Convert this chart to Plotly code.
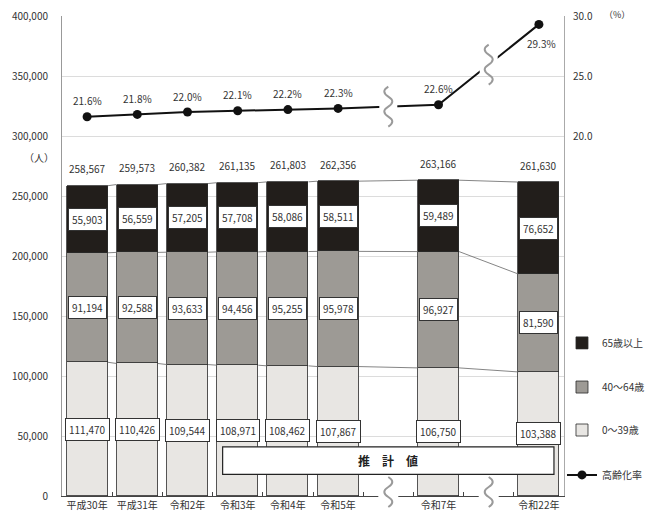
import plotly.graph_objects as go

# ---- data ----
categories = ["平成30年", "平成31年", "令和2年", "令和3年", "令和4年", "令和5年", "令和7年", "令和22年"]
age_0_39 = [111470, 110426, 109544, 108971, 108462, 107867, 106750, 103388]
age_40_64 = [91194, 92588, 93633, 94456, 95255, 95978, 96927, 81590]
age_65_over = [55903, 56559, 57205, 57708, 58086, 58511, 59489, 76652]
totals = [258567, 259573, 260382, 261135, 261803, 262356, 263166, 261630]
aging_rate = [21.6, 21.8, 22.0, 22.1, 22.2, 22.3, 22.6, 29.3]
left_ticks = [0, 50000, 100000, 150000, 200000, 250000, 300000, 350000, 400000]
right_ticks = [20.0, 25.0, 30.0]

# ---- layout helpers (positions on the x axis; gaps mark omitted years) ----
slots = [0, 1, 2, 3, 4, 5, 7, 9]
gap_slots = [6, 8]
BW = 0.82
FONT = "Noto Sans CJK JP"
TXT = "#333333"

fig = go.Figure()

# connector lines between stacks
lvl0 = age_0_39
lvl1 = [a + b for a, b in zip(age_0_39, age_40_64)]
lvl2 = [a + b + c for a, b, c in zip(age_0_39, age_40_64, age_65_over)]
cx, cy = [], []
for lv in (lvl0, lvl1, lvl2):
    for i in range(len(slots) - 1):
        cx += [slots[i] + BW / 2, slots[i + 1] - BW / 2, None]
        cy += [lv[i], lv[i + 1], None]
fig.add_trace(go.Scatter(x=cx, y=cy, mode="lines", line=dict(color="#666666", width=0.8),
                         showlegend=False, hoverinfo="skip"))

bar_line = dict(color="#2a2a2a", width=0.8)
fig.add_trace(go.Bar(x=slots, y=age_0_39, name="0～39歳", width=BW,
                     marker=dict(color="#e8e6e3", line=bar_line), legend="legend3"))
fig.add_trace(go.Bar(x=slots, y=age_40_64, name="40～64歳", width=BW,
                     marker=dict(color="#9d9a95", line=bar_line), legend="legend2"))
fig.add_trace(go.Bar(x=slots, y=age_65_over, name="65歳以上", width=BW,
                     marker=dict(color="#221e1b", line=bar_line), legend="legend"))
fig.add_trace(go.Scatter(x=slots, y=aging_rate, name="高齢化率", yaxis="y2",
                         mode="lines+markers", line=dict(color="#111111", width=2),
                         marker=dict(color="#111111", size=9), legend="legend4"))

ann = []
box = dict(bgcolor="white", bordercolor="#333333", borderwidth=1, borderpad=3,
           font=dict(family=FONT, size=10, color=TXT), showarrow=False)
for i, s in enumerate(slots):
    b0 = age_0_39[i]
    b1 = b0 + age_40_64[i]
    b2 = b1 + age_65_over[i]
    ann.append(dict(x=s, y=b0 / 2, text=f"{age_0_39[i]:,}", **box))
    ann.append(dict(x=s, y=(b0 + b1) / 2, text=f"{age_40_64[i]:,}", **box))
    ann.append(dict(x=s, y=(b1 + b2) / 2, text=f"{age_65_over[i]:,}", **box))
    ann.append(dict(x=s, y=totals[i], text=f"{totals[i]:,}", yshift=17, showarrow=False,
                    font=dict(family=FONT, size=10, color=TXT)))
    last = i == len(slots) - 1
    ann.append(dict(x=s, y=aging_rate[i], yref="y2", text=f"{aging_rate[i]:.1f}%",
                    yshift=-19 if last else 16, xshift=3 if last else 0, showarrow=False,
                    font=dict(family=FONT, size=10, color=TXT)))

ann.append(dict(xref="paper", yref="paper", x=-0.012, y=0.706, xanchor="right", yanchor="middle",
                text="（人）", showarrow=False, font=dict(family=FONT, size=10, color=TXT)))
ann.append(dict(xref="paper", yref="paper", x=1.076, y=1.004, xanchor="left", yanchor="middle",
                text="（%）", showarrow=False, font=dict(family=FONT, size=9, color=TXT)))
ann.append(dict(x=6, y=29500, text="<b>推　計　値</b>", showarrow=False,
                font=dict(family=FONT, size=12, color="#222222")))

shapes = [dict(type="rect", xref="x", yref="y", x0=2.7, x1=9.3, y0=18000, y1=41000,
               fillcolor="white", line=dict(color="#222222", width=1.2), layer="above")]


def wave(cy, h, amp, n):
    y = cy - h / 2
    step = h / n
    p = f"M0,{y:.1f}"
    for k in range(n):
        sgn = 1 if k % 2 == 0 else -1
        p += f" Q{2 * amp * sgn:.1f},{y + step / 2:.1f} 0,{y + step:.1f}"
        y += step
    return p


# break marks on the rate line and on the x axis
for g in gap_slots:
    i = slots.index(g - 1)
    mid = (aging_rate[i] + aging_rate[i + 1]) / 2
    common = dict(xref="x", yref="y2", xsizemode="pixel", ysizemode="pixel",
                  xanchor=g, yanchor=mid, layer="above")
    shapes.append(dict(type="path", path="M-9,-11 H9 V11 H-9 Z", fillcolor="white",
                       line=dict(width=0), **common))
    shapes.append(dict(type="path", path=wave(0, 40, 4, 4), line=dict(color="#9a9a9a", width=2),
                       **common))
    common_b = dict(xref="x", yref="paper", xsizemode="pixel", ysizemode="pixel",
                    xanchor=g, yanchor=0, layer="above")
    shapes.append(dict(type="path", path="M-10,-3 H10 V3 H-10 Z", fillcolor="white",
                       line=dict(width=0), **common_b))
    shapes.append(dict(type="path", path=wave(4, 30, 4, 3), line=dict(color="#9a9a9a", width=2),
                       **common_b))

legend_common = dict(font=dict(family=FONT, size=10, color=TXT), bgcolor="rgba(0,0,0,0)",
                     x=0.996, xanchor="left", yanchor="middle", itemwidth=30)
fig.update_layout(
    width=655, height=515,
    margin=dict(l=62, r=91, t=16, b=19, autoexpand=False),
    paper_bgcolor="white", plot_bgcolor="white",
    barmode="stack", bargap=0,
    font=dict(family=FONT, size=10, color=TXT),
    xaxis=dict(range=[-0.5, 9.5], tickmode="array", tickvals=slots, ticktext=categories,
               automargin=False,
               showgrid=False, zeroline=False, showline=True, linecolor="#444444", linewidth=1,
               ticks="", tickfont=dict(family=FONT, size=10, color=TXT),
               minor=dict(tickmode="array", tickvals=[k + 0.5 for k in range(9)],
                          ticks="inside", ticklen=4, tickcolor="#444444", showgrid=False)),
    yaxis=dict(range=[0, 400000], tickmode="array", tickvals=left_ticks, tickformat=",d",
               automargin=False,
               showgrid=True, gridcolor="#dcdcdc", gridwidth=1, zeroline=False,
               showline=True, linecolor="#999999", linewidth=1, ticks="",
               ticklabelstandoff=11, tickfont=dict(family=FONT, size=10, color=TXT)),
    yaxis2=dict(range=[-10, 30], overlaying="y", side="right", tickmode="array",
                automargin=False,
                tickvals=right_ticks, ticktext=[f"{v:.1f}" for v in right_ticks],
                showgrid=False, zeroline=False, showline=True, linecolor="#aaaaaa",
                linewidth=1, ticks="", ticklabelstandoff=6,
                tickfont=dict(family=FONT, size=10, color=TXT)),
    legend=dict(y=0.319, **legend_common),
    legend2=dict(y=0.227, **legend_common),
    legend3=dict(y=0.1375, **legend_common),
    legend4=dict(y=0.044, **legend_common),
    annotations=ann,
    shapes=shapes,
)

fig.write_html("out.html", config={"displayModeBar": False},
               post_script="document.body.style.margin='0';")
